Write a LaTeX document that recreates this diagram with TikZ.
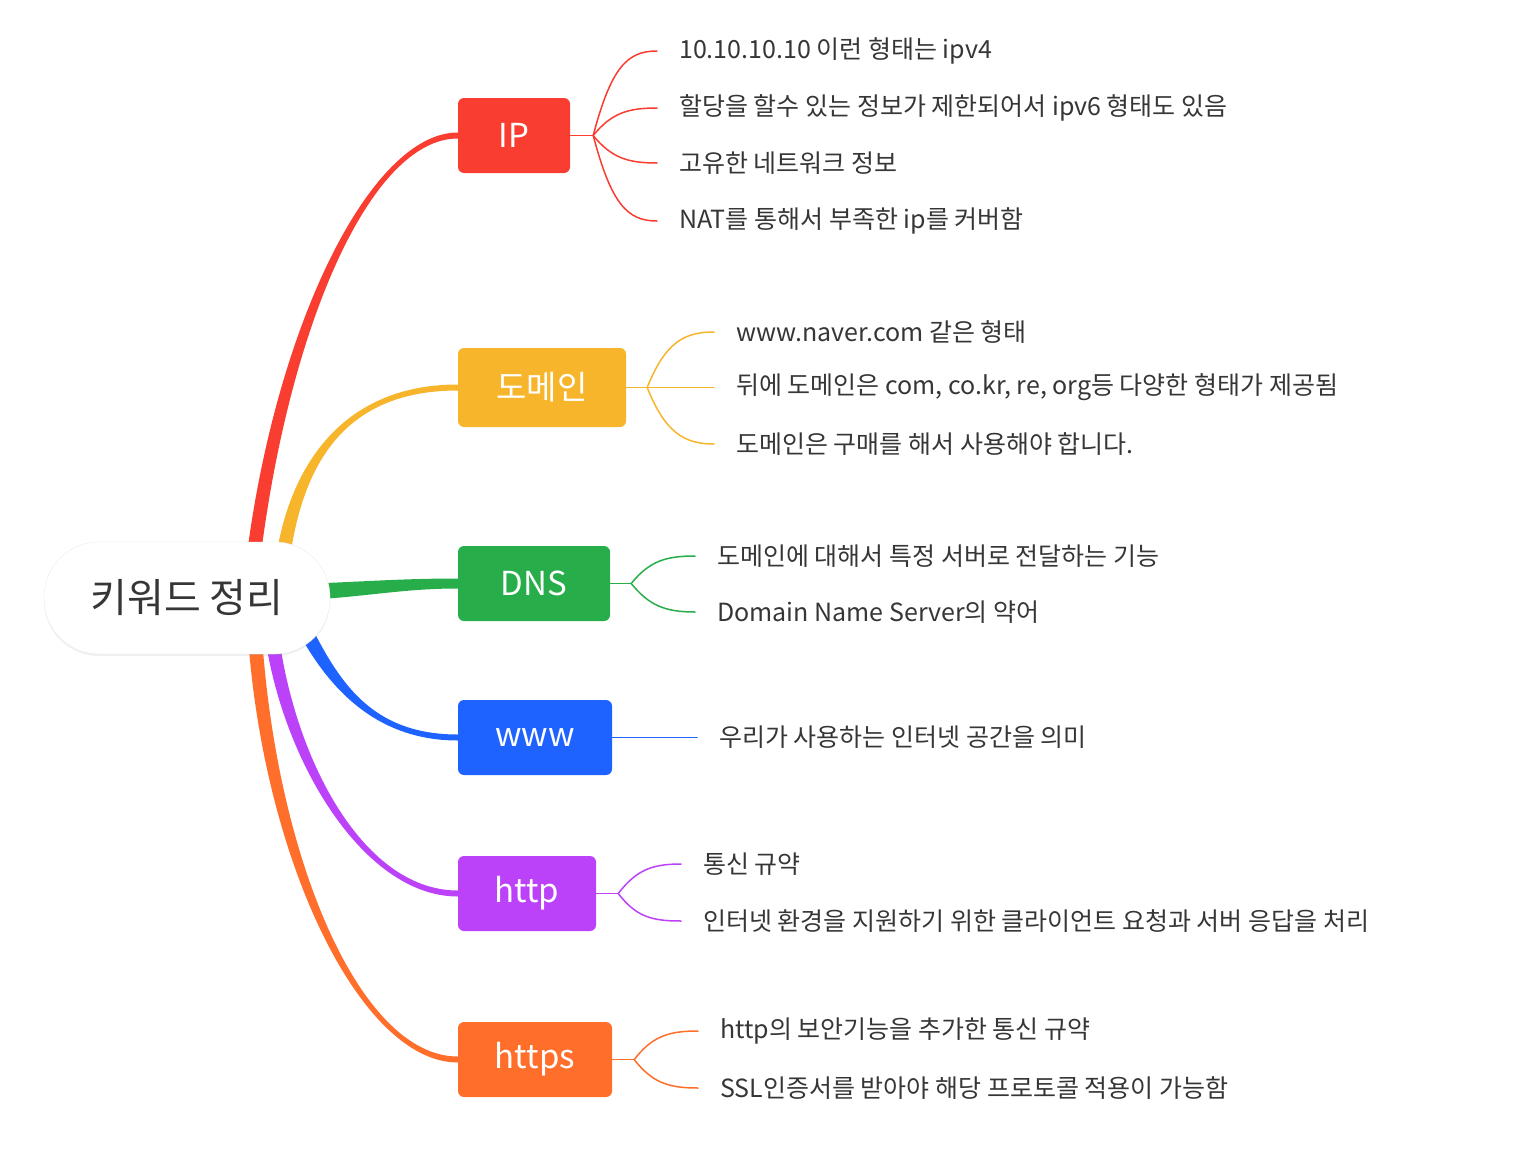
\documentclass[tikz,border=0pt]{standalone}
\usepackage{fontspec}
\setmainfont{Noto Sans CJK KR}
\usetikzlibrary{calc,backgrounds,shadows}
\definecolor{iprd}{HTML}{F93D30}
\definecolor{domy}{HTML}{F7B52B}
\definecolor{dnsg}{HTML}{27AE4B}
\definecolor{wwwb}{HTML}{1E62FF}
\definecolor{httpp}{HTML}{BC42FA}
\definecolor{httpso}{HTML}{FF6F2B}
\definecolor{txt}{HTML}{363636}

\begin{document}
\begin{tikzpicture}[x=1pt,y=-1pt,line cap=round,line join=round,
  topic/.style={rectangle,rounded corners=6pt,inner sep=0pt,minimum height=75pt,text=white,font=\fontsize{33}{33}\selectfont},
  leaf/.style={anchor=west,inner xsep=22pt,inner ysep=0pt,text=txt,font=\fontsize{25}{25}\selectfont},
  twig/.style={line width=1.5pt}]
\useasboundingbox (0,0) rectangle (1516,1164);
% central topic
\node[draw=black!8,fill=white,rounded corners=55pt,minimum width=286pt,minimum height=112pt,inner sep=0pt,
  drop shadow={shadow xshift=0pt,shadow yshift=-2pt,opacity=0.12},text=txt,font=\fontsize{40}{40}\selectfont] (root) at (187,598) {키워드 정리};
% main topics
\node[topic,fill=iprd,minimum width=112pt] (ip) at (514,135.5) {IP};
\node[topic,fill=domy,minimum width=168pt,minimum height=79pt] (dom) at (542,387.5) {도메인};
\node[topic,fill=dnsg,minimum width=152pt] (dns) at (534,583.5) {DNS};
\node[topic,fill=wwwb,minimum width=154pt] (www) at (535,737.5) {www};
\node[topic,fill=httpp,minimum width=138pt] (http) at (527,893.5) {http};
\node[topic,fill=httpso,minimum width=154pt] (https) at (535,1059.5) {https};
% thick branches
\begin{scope}[on background layer]
\fill[iprd] ($(root.center)+(58,-28)$) .. controls +(28,-240) and +(-88,0) .. ($(ip.west)+(0,-3)$) -- ($(ip.west)+(0,3)$) .. controls +(-88,0) and +(28,-240) .. ($(root.center)+(72,-28)$) -- cycle;
\fill[domy] ($(root.center)+(88,-33)$) .. controls +(12,-95) and +(-118,0) .. ($(dom.west)+(0,-3)$) -- ($(dom.west)+(0,3)$) .. controls +(-118,0) and +(12,-95) .. ($(root.center)+(102,-33)$) -- cycle;
\fill[dnsg] ($(root.center)+(113,-14)$) .. controls +(60,-2) and +(-58,0) .. ($(dns.west)+(0,-5)$) -- ($(dns.west)+(0,5)$) .. controls +(-58,0) and +(60,-2) .. ($(root.center)+(113,2)$) -- cycle;
\fill[wwwb] ($(root.center)+(121,22)$) .. controls +(30,60) and +(-88,0) .. ($(www.west)+(0,-3)$) -- ($(www.west)+(0,3)$) .. controls +(-88,0) and +(30,60) .. ($(root.center)+(105,22)$) -- cycle;
\fill[httpp] ($(root.center)+(90,22)$) .. controls +(13,130) and +(-98,0) .. ($(http.west)+(0,-3)$) -- ($(http.west)+(0,3)$) .. controls +(-98,0) and +(13,130) .. ($(root.center)+(76,22)$) -- cycle;
\fill[httpso] ($(root.center)+(74,22)$) .. controls +(12,230) and +(-100,0) .. ($(https.west)+(0,-3)$) -- ($(https.west)+(0,3)$) .. controls +(-100,0) and +(12,230) .. ($(root.center)+(60,22)$) -- cycle;
\end{scope}
% IP
\node[leaf] (ip1) at (657,51) {10.10.10.10 이런 형태는 ipv4};
\node[leaf] (ip2) at (657,108) {할당을 할수 있는 정보가 제한되어서 ipv6 형태도 있음};
\node[leaf] (ip3) at (657,163) {고유한 네트워크 정보};
\node[leaf] (ip4) at (657,221) {NAT를 통해서 부족한 ip를 커버함};
\draw[twig,iprd] (ip.east) -- ++(23,0) coordinate (ipf);
\draw[twig,iprd] (ipf) .. controls +(18,-68) and +(-30,0) .. (ip1.west);
\draw[twig,iprd] (ipf) .. controls +(18,-22) and +(-30,0) .. (ip2.west);
\draw[twig,iprd] (ipf) .. controls +(18,22) and +(-30,0) .. (ip3.west);
\draw[twig,iprd] (ipf) .. controls +(18,68) and +(-30,0) .. (ip4.west);
% domain
\node[leaf] (dom1) at (714,332) {www.naver.com 같은 형태};
\node[leaf] (dom2) at (714,387.5) {뒤에 도메인은 com, co.kr, re, org등 다양한 형태가 제공됨};
\node[leaf] (dom3) at (714,444) {도메인은 구매를 해서 사용해야 합니다.};
\draw[twig,domy] (dom.east) -- ++(21,0) coordinate (domf);
\draw[twig,domy] (domf) .. controls +(18,-45) and +(-30,0) .. (dom1.west);
\draw[twig,domy] (domf) -- (dom2.west);
\draw[twig,domy] (domf) .. controls +(18,45) and +(-30,0) .. (dom3.west);
% DNS
\node[leaf] (dns1) at (695,556) {도메인에 대해서 특정 서버로 전달하는 기능};
\node[leaf] (dns2) at (695,612) {Domain Name Server의 약어};
\draw[twig,dnsg] (dns.east) -- ++(21,0) coordinate (dnsf);
\draw[twig,dnsg] (dnsf) .. controls +(18,-22) and +(-30,0) .. (dns1.west);
\draw[twig,dnsg] (dnsf) .. controls +(18,22) and +(-30,0) .. (dns2.west);
% www
\node[leaf] (www1) at (697,737.5) {우리가 사용하는 인터넷 공간을 의미};
\draw[twig,wwwb] (www.east) -- (www1.west);
% http
\node[leaf] (http1) at (681,864) {통신 규약};
\node[leaf] (http2) at (681,921) {인터넷 환경을 지원하기 위한 클라이언트 요청과 서버 응답을 처리};
\draw[twig,httpp] (http.east) -- ++(22,0) coordinate (httpf);
\draw[twig,httpp] (httpf) .. controls +(18,-23) and +(-30,0) .. (http1.west);
\draw[twig,httpp] (httpf) .. controls +(18,23) and +(-30,0) .. (http2.west);
% https
\node[leaf] (https1) at (698,1031) {http의 보안기능을 추가한 통신 규약};
\node[leaf] (https2) at (698,1088) {SSL인증서를 받아야 해당 프로토콜 적용이 가능함};
\draw[twig,httpso] (https.east) -- ++(22,0) coordinate (httpsf);
\draw[twig,httpso] (httpsf) .. controls +(18,-23) and +(-30,0) .. (https1.west);
\draw[twig,httpso] (httpsf) .. controls +(18,23) and +(-30,0) .. (https2.west);
\end{tikzpicture}
\end{document}
